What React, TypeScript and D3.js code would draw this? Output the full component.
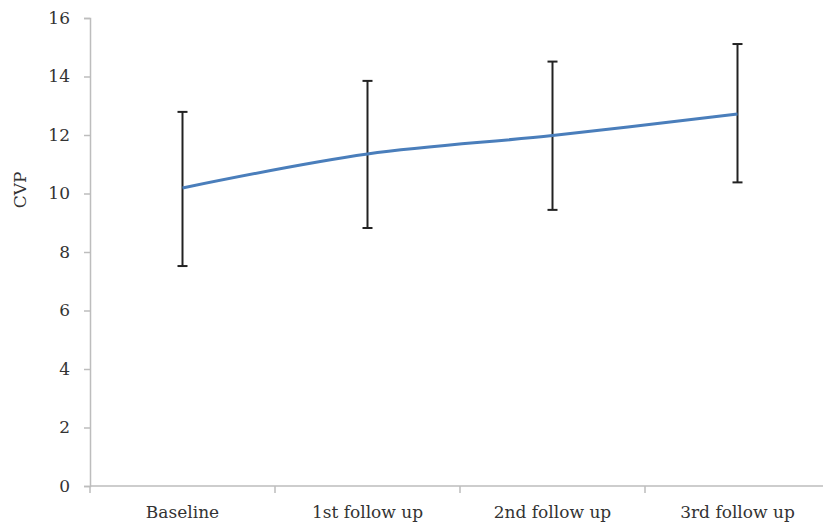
import React, { useRef, useEffect } from "react";
import * as d3 from "d3";

// categories and values
const visits = ["Baseline", "1st follow up", "2nd follow up", "3rd follow up"];
const cvpMean = [10.19, 11.35, 11.98, 12.72];
const cvpUpper = [12.79, 13.85, 14.51, 15.11];
const cvpLower = [7.52, 8.82, 9.44, 10.38];
const yTicks = [0, 2, 4, 6, 8, 10, 12, 14, 16];

const App = () => {
  const svgRef = useRef<SVGSVGElement>(null);

  useEffect(() => {
    const svg = d3.select(svgRef.current);
    svg.selectAll("*").remove();

    const left = 90,
      right = 830,
      top = 18,
      bottom = 486;
    const font = "'DejaVu Serif', serif";
    const fontSize = "17px";
    const axisColor = "#bdbdbd";

    const x = d3.scaleBand().domain(visits).range([left, right]);
    const y = d3.scaleLinear().domain([0, 16]).range([bottom, top]);

    const g = svg.append("g");

    // y axis
    const yAxis = g
      .append("g")
      .attr("transform", `translate(${left},0)`)
      .call(d3.axisLeft(y).tickValues(yTicks).tickSize(6).tickPadding(14).tickFormat(d3.format("d")));
    yAxis.select(".domain").attr("stroke", axisColor).attr("stroke-width", 1.5);
    yAxis.selectAll(".tick line").attr("stroke", axisColor).attr("stroke-width", 1.5);
    yAxis
      .selectAll(".tick text")
      .attr("fill", "#333")
      .style("font-family", font)
      .style("font-size", fontSize);

    // x axis: ticks at band edges
    const xAxis = g.append("g").attr("transform", `translate(0,${bottom})`);
    xAxis
      .append("line")
      .attr("x1", left)
      .attr("x2", right)
      .attr("stroke", axisColor)
      .attr("stroke-width", 1.5);
    xAxis
      .selectAll(".edge")
      .data(visits)
      .enter()
      .append("line")
      .attr("x1", (d) => x(d)!)
      .attr("x2", (d) => x(d)!)
      .attr("y1", 0)
      .attr("y2", 7)
      .attr("stroke", axisColor)
      .attr("stroke-width", 1.5);
    xAxis
      .selectAll(".lab")
      .data(visits)
      .enter()
      .append("text")
      .attr("x", (d) => x(d)! + x.bandwidth() / 2)
      .attr("y", 32)
      .attr("text-anchor", "middle")
      .attr("fill", "#333")
      .style("font-family", font)
      .style("font-size", fontSize)
      .text((d) => d);

    // y label
    g.append("text")
      .attr("transform", `translate(26,190) rotate(-90)`)
      .attr("text-anchor", "middle")
      .attr("fill", "#333")
      .style("font-family", font)
      .style("font-size", fontSize)
      .text("CVP");

    const cx = (i: number) => x(visits[i])! + x.bandwidth() / 2;

    // error bars
    const bars = g
      .selectAll(".err")
      .data(visits)
      .enter()
      .append("g")
      .attr("stroke", "#222")
      .attr("stroke-width", 2);
    bars
      .append("line")
      .attr("x1", (d, i) => cx(i))
      .attr("x2", (d, i) => cx(i))
      .attr("y1", (d, i) => y(cvpUpper[i]))
      .attr("y2", (d, i) => y(cvpLower[i]));
    bars
      .append("line")
      .attr("x1", (d, i) => cx(i) - 5)
      .attr("x2", (d, i) => cx(i) + 5)
      .attr("y1", (d, i) => y(cvpUpper[i]))
      .attr("y2", (d, i) => y(cvpUpper[i]));
    bars
      .append("line")
      .attr("x1", (d, i) => cx(i) - 5)
      .attr("x2", (d, i) => cx(i) + 5)
      .attr("y1", (d, i) => y(cvpLower[i]))
      .attr("y2", (d, i) => y(cvpLower[i]));

    // mean line
    const line = d3
      .line<number>()
      .x((d, i) => cx(i))
      .y((d) => y(d))
      .curve(d3.curveCatmullRom.alpha(0.5));
    g.append("path")
      .datum(cvpMean)
      .attr("d", line)
      .attr("fill", "none")
      .attr("stroke", "#4a7ebb")
      .attr("stroke-width", 3);
  }, []);

  return (
    <svg
      ref={svgRef}
      width={823}
      height={524}
      style={{ position: "absolute", left: 0, top: 0, background: "#fff" }}
    ></svg>
  );
};

export default App;
